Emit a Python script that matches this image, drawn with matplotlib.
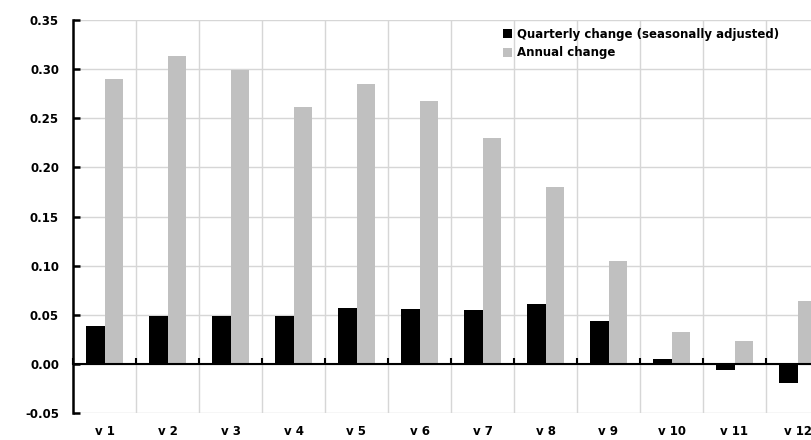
import matplotlib.pyplot as plt
import numpy as np

categories = ["v 1", "v 2", "v 3", "v 4", "v 5", "v 6", "v 7", "v 8", "v 9", "v 10", "v 11", "v 12"]
quarterly = [0.039, 0.049, 0.049, 0.049, 0.057, 0.056, 0.055, 0.061, 0.044, 0.005, -0.006, -0.019]
annual = [0.290, 0.313, 0.299, 0.261, 0.285, 0.268, 0.230, 0.180, 0.105, 0.032, 0.023, 0.064]
yticks = [-0.05, 0.00, 0.05, 0.10, 0.15, 0.20, 0.25, 0.30, 0.35]

plt.rcParams["font.family"] = ["DejaVu Sans"]
plt.rcParams["font.weight"] = "bold"

fig = plt.figure(figsize=(8.11, 4.40), dpi=100)
# plot area runs past the right edge, so the last category is clipped
ax = fig.add_axes([73 / 811, 27 / 440, 756 / 811, 393 / 440])

x = np.arange(len(categories))
w = 0.286
ax.bar(x - w / 2, quarterly, w, color="black", label="Quarterly change (seasonally adjusted)", zorder=3)
ax.bar(x + w / 2, annual, w, color="#c0c0c0", label="Annual change", zorder=3)

ax.set_xlim(-0.5, len(categories) - 0.5)
ax.set_ylim(-0.05, 0.35)
ax.set_yticks(yticks)
ax.set_yticklabels([f"{v:.2f}" for v in yticks], fontsize=8.5, fontweight="bold")

# grid
for yv in yticks:
    ax.axhline(yv, color="#d6d6d6", lw=1, zorder=1)
for b in np.arange(len(categories) + 1) - 0.5:
    ax.axvline(b, color="#d6d6d6", lw=1, zorder=1)

# zero axis with boundary ticks
ax.spines["bottom"].set_position(("data", 0))
ax.spines["bottom"].set_linewidth(1.5)
ax.spines["bottom"].set_zorder(4)
ax.set_xticks(np.arange(len(categories) + 1) - 0.5)
ax.set_xticklabels([])
ax.tick_params(axis="x", direction="in", length=4, width=1.5, color="black")
for i, c in enumerate(categories):
    ax.text(i, -0.062, c, transform=ax.transData, ha="center", va="top",
            fontsize=8.5, fontweight="bold", clip_on=False)

ax.spines["left"].set_linewidth(1.8)
ax.spines["left"].set_zorder(4)
ax.spines["top"].set_visible(False)
ax.spines["right"].set_visible(False)
ax.tick_params(axis="y", direction="in", length=5, width=1.8, pad=10)

ax.legend(loc="upper left", bbox_to_anchor=(497 / 811, 1 - 22 / 440), bbox_transform=fig.transFigure,
          frameon=False, prop={"size": 8.5, "weight": "bold"}, handlelength=0.8, handleheight=0.8,
          handletextpad=0.4, labelspacing=0.45, borderpad=0)

fig.savefig("out.png", dpi=100)
